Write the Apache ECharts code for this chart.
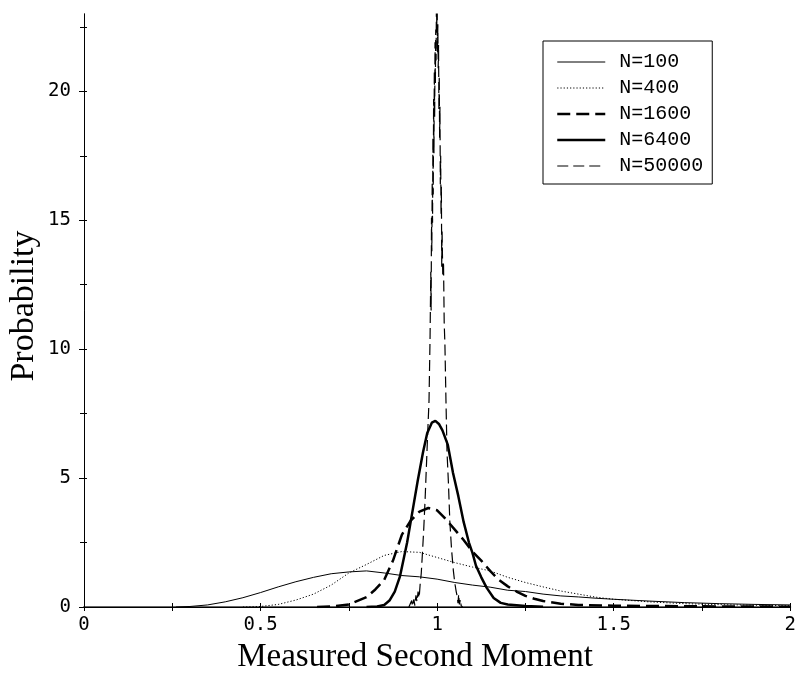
<!DOCTYPE html>
<html>
<head>
<meta charset="utf-8">
<script src="https://cdn.jsdelivr.net/npm/echarts@6/dist/echarts.min.js"></script>
<style>
  html, body { margin: 0; padding: 0; background: #fff; }
  #chart { width: 799px; height: 675px; }
</style>
</head>
<body>
<div id="chart"></div>
<script>
// Distribution of the measured second moment for several sample sizes N

const seriesNames = ['N=100', 'N=400', 'N=1600', 'N=6400', 'N=50000'];

const x100 = [0.26, 0.3, 0.35, 0.4, 0.45, 0.5, 0.55, 0.6, 0.65, 0.7, 0.75, 0.8, 0.85, 0.9, 0.95, 1.0, 1.05, 1.1, 1.15, 1.2, 1.25, 1.3, 1.35, 1.4, 1.45, 1.5, 1.6, 1.7, 1.8, 1.9, 2.0];
const y100 = [0, 0.02, 0.08, 0.2, 0.36, 0.56, 0.78, 0.98, 1.15, 1.29, 1.36, 1.4, 1.32, 1.22, 1.17, 1.08, 0.95, 0.85, 0.77, 0.65, 0.6, 0.5, 0.43, 0.39, 0.34, 0.3, 0.23, 0.17, 0.13, 0.1, 0.08];

const x400 = [0.45, 0.5, 0.55, 0.6, 0.65, 0.7, 0.75, 0.8, 0.85, 0.9, 0.95, 1.0, 1.05, 1.1, 1.15, 1.2, 1.25, 1.3, 1.35, 1.4, 1.45, 1.5, 1.6, 1.7, 1.8, 1.9, 2.0];
const y400 = [0, 0.02, 0.1, 0.27, 0.5, 0.85, 1.32, 1.65, 2.0, 2.15, 2.12, 1.92, 1.72, 1.55, 1.4, 1.15, 0.95, 0.78, 0.62, 0.5, 0.38, 0.3, 0.2, 0.13, 0.09, 0.07, 0.05];

const x1600 = [0.66, 0.7, 0.75, 0.8, 0.825, 0.85, 0.875, 0.9, 0.925, 0.95, 0.975, 1.0, 1.025, 1.05, 1.075, 1.1, 1.125, 1.15, 1.175, 1.2, 1.225, 1.25, 1.275, 1.3, 1.35, 1.4, 1.5, 1.6, 1.7, 1.8, 1.9, 2.0];
const y1600 = [0, 0.02, 0.1, 0.38, 0.68, 1.05, 1.8, 2.8, 3.35, 3.7, 3.84, 3.75, 3.4, 3.0, 2.6, 2.15, 1.8, 1.4, 1.05, 0.8, 0.6, 0.43, 0.32, 0.23, 0.13, 0.08, 0.05, 0.04, 0.03, 0.02, 0.02, 0.01];

const x6400 = [0.8, 0.83, 0.85, 0.865, 0.88, 0.895, 0.915, 0.93, 0.945, 0.96, 0.972, 0.985, 0.995, 1.005, 1.015, 1.03, 1.045, 1.06, 1.075, 1.09, 1.1, 1.11, 1.125, 1.14, 1.16, 1.18, 1.2, 1.25, 1.3];
const y6400 = [0, 0.02, 0.08, 0.25, 0.6, 1.2, 2.5, 3.7, 4.9, 6.0, 6.75, 7.15, 7.22, 7.1, 6.85, 6.3, 5.2, 4.3, 3.3, 2.5, 2.1, 1.6, 1.15, 0.75, 0.35, 0.16, 0.1, 0.04, 0.01];

const x50000 = [0.92, 0.925, 0.928, 0.93, 0.934, 0.937, 0.94, 0.943, 0.946, 0.949, 0.952, 0.955, 0.958, 0.962, 0.966, 0.97, 0.974, 0.977, 0.98,
  0.982, 0.983, 0.984, 0.985, 0.986, 0.987, 0.988, 0.989, 0.99, 0.991, 0.992, 0.993, 0.994, 0.995, 0.996, 0.997, 0.998, 0.999, 1.0,
  1.001, 1.002, 1.003, 1.004, 1.005, 1.006, 1.007, 1.008, 1.009, 1.01, 1.011, 1.012, 1.013, 1.014, 1.016, 1.018,
  1.02, 1.022, 1.025, 1.028, 1.032, 1.036, 1.041, 1.046, 1.05, 1.054, 1.057, 1.059, 1.061, 1.063, 1.066, 1.068, 1.072];
const y50000 = [0, 0.05, 0.25, 0.02, 0.3, 0.05, 0.45, 0.2, 0.6, 0.35, 0.9, 1.3, 2.0, 3.0, 4.2, 5.6, 7.0, 8.0, 10.5,
  13.0, 11.5, 15.1, 13.8, 16.5, 14.9, 18.2, 16.0, 19.7, 17.6, 20.8, 19.0, 21.9, 20.3, 22.4, 21.2, 23.6, 22.5, 23.8,
  21.5, 22.6, 20.9, 21.8, 19.3, 20.6, 18.2, 19.4, 16.4, 17.5, 15.2, 16.3, 13.2, 14.6, 12.8, 13.4,
  11.0, 10.2, 8.0, 6.0, 4.8, 3.3, 2.2, 1.4, 0.93, 0.6, 0.4, 0.15, 0.5, 0.1, 0.3, 0.05, 0];

// tick positions
const xLabelTicks = [0, 0.5, 1, 1.5, 2];
const xAllTicks = [0, 0.25, 0.5, 0.75, 1, 1.25, 1.5, 1.75, 2];
const yLabelTicks = [0, 5, 10, 15, 20];
const yAllTicks = [0, 2.5, 5, 7.5, 10, 12.5, 15, 17.5, 20, 22.5];

const xAxisTitle = 'Measured Second Moment';
const yAxisTitle = 'Probability';

const lineStyles = [
  { color: '#000', width: 1, type: 'solid' },
  { color: '#000', width: 1, type: [1.2, 2] },
  { color: '#000', width: 2.5, type: [13, 6] },
  { color: '#000', width: 2.5, type: 'solid' },
  { color: '#000', width: 1.2, type: [11, 5] }
];

const xs = [x100, x400, x1600, x6400, x50000];
const ys = [y100, y400, y1600, y6400, y50000];

const pairs = (a, b) => a.map((v, i) => [v, b[i]]);

const tickFont = { fontFamily: 'DejaVu Sans Mono', fontSize: 19, color: '#000' };

const chart = echarts.init(document.getElementById('chart'), null, { renderer: 'canvas' });

chart.setOption({
  animation: false,
  backgroundColor: '#fff',
  grid: { left: 84, right: 3, top: 14, bottom: 68, containLabel: false },
  xAxis: [
    {
      type: 'value', min: 0, max: 2, position: 'bottom',
      axisLine: { lineStyle: { color: '#666', width: 2 } },
      axisTick: { inside: false, length: 4, customValues: xAllTicks, lineStyle: { color: '#000', width: 1 } },
      axisLabel: { customValues: xLabelTicks, margin: 9, ...tickFont },
      splitLine: { show: false }
    },
    {
      type: 'value', min: 0, max: 2, position: 'bottom',
      axisLine: { show: false },
      axisTick: { inside: true, length: 4, customValues: xAllTicks, lineStyle: { color: '#000', width: 1 } },
      axisLabel: { show: false },
      splitLine: { show: false }
    },
    {
      type: 'value', min: 0, max: 2, position: 'top',
      axisLine: { lineStyle: { color: '#000', width: 1 } },
      axisTick: { inside: true, length: 4, customValues: xAllTicks, lineStyle: { color: '#000', width: 1 } },
      axisLabel: { show: false },
      splitLine: { show: false }
    }
  ],
  yAxis: [
    {
      type: 'value', min: 0, max: 23, position: 'left',
      axisLine: { lineStyle: { color: '#000', width: 1 } },
      axisTick: { inside: false, length: 5, customValues: yLabelTicks, lineStyle: { color: '#000', width: 1 } },
      axisLabel: { customValues: yLabelTicks, margin: 13, ...tickFont },
      splitLine: { show: false }
    },
    {
      type: 'value', min: 0, max: 23, position: 'left',
      axisLine: { show: false },
      axisTick: { inside: true, length: 3, customValues: yAllTicks, lineStyle: { color: '#000', width: 1 } },
      axisLabel: { show: false },
      splitLine: { show: false }
    },
    {
      type: 'value', min: 0, max: 23, position: 'right',
      axisLine: { lineStyle: { color: '#000', width: 1 } },
      axisTick: { inside: true, length: 4, customValues: yAllTicks, lineStyle: { color: '#000', width: 1 } },
      axisLabel: { show: false },
      splitLine: { show: false }
    }
  ],
  legend: {
    orient: 'vertical',
    left: 543, top: 41,
    backgroundColor: '#fff',
    borderColor: '#000', borderWidth: 1,
    padding: [11, 9, 8, 13],
    itemGap: 6,
    itemWidth: 48, itemHeight: 20,
    // only the line sample is shown, no marker
    itemStyle: { color: 'transparent', borderWidth: 0, opacity: 0 },
    textStyle: { fontFamily: 'Liberation Mono', fontSize: 20, color: '#000', padding: [0, 0, 0, 9] },
    data: seriesNames.map((n, i) => ({
      name: n,
      lineStyle: lineStyles[i],
      itemStyle: { color: 'transparent', borderWidth: 0, opacity: 0 }
    }))
  },
  graphic: [
    {
      type: 'text', x: 415, y: 657,
      style: { text: xAxisTitle, font: '33px "Liberation Serif"', fill: '#000', align: 'center', verticalAlign: 'middle' }
    },
    {
      type: 'text', x: 24, y: 306, rotation: Math.PI / 2,
      style: { text: yAxisTitle, font: '34px "Liberation Serif"', fill: '#000', align: 'center', verticalAlign: 'middle' }
    }
  ],
  series: seriesNames.map((n, i) => ({
    type: 'line',
    name: n,
    xAxisIndex: 0,
    yAxisIndex: 0,
    data: pairs(xs[i], ys[i]),
    symbol: 'none',
    clip: true,
    lineStyle: lineStyles[i],
    itemStyle: { color: '#000' },
    emphasis: { disabled: true }
  }))
});
</script>
</body>
</html>
